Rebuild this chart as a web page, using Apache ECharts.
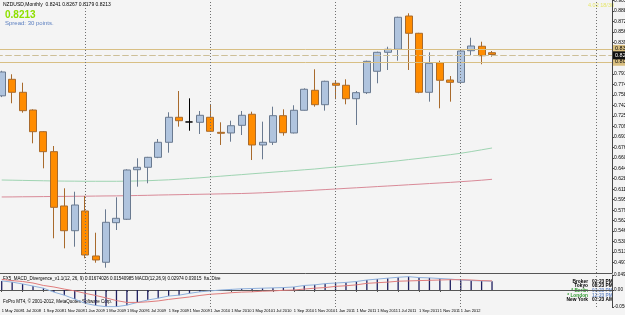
<!DOCTYPE html>
<html>
<head>
<meta charset="utf-8">
<style>
  html, body { margin: 0; padding: 0; background: #f4f4f4; }
  #chart { width: 625px; height: 315px; }
</style>
<script src="https://cdn.jsdelivr.net/npm/echarts@6/dist/echarts.min.js"></script>
</head>
<body>
<div id="chart"></div>
<script>
// NZDUSD monthly bars, May 2008 .. Apr 2012
var months = [
  '1 May 2008', '1 Jun 2008', '1 Jul 2008', '1 Aug 2008', '1 Sep 2008', '1 Oct 2008', '1 Nov 2008', '1 Dec 2008',
  '1 Jan 2009', '1 Feb 2009', '1 Mar 2009', '1 Apr 2009', '1 May 2009', '1 Jun 2009', '1 Jul 2009', '1 Aug 2009',
  '1 Sep 2009', '1 Oct 2009', '1 Nov 2009', '1 Dec 2009', '1 Jan 2010', '1 Feb 2010', '1 Mar 2010', '1 Apr 2010',
  '1 May 2010', '1 Jun 2010', '1 Jul 2010', '1 Aug 2010', '1 Sep 2010', '1 Oct 2010', '1 Nov 2010', '1 Dec 2010',
  '1 Jan 2011', '1 Feb 2011', '1 Mar 2011', '1 Apr 2011', '1 May 2011', '1 Jun 2011', '1 Jul 2011', '1 Aug 2011',
  '1 Sep 2011', '1 Oct 2011', '1 Nov 2011', '1 Dec 2011', '1 Jan 2012', '1 Feb 2012', '1 Mar 2012', '1 Apr 2012'
];
// empty slots to the right of the last bar (chart shift)
var futureMonths = [
  '1 May 2012', '1 Jun 2012', '1 Jul 2012', '1 Aug 2012', '1 Sep 2012', '1 Oct 2012',
  '1 Nov 2012', '1 Dec 2012', '1 Jan 2013', '1 Feb 2013', '1 Mar 2013'
];
var separators = ['1 Jan 2009', '1 Jan 2010', '1 Jan 2011', '1 Jan 2012', '1 Feb 2013'];

var opens = [
  0.7570, 0.7827, 0.7625, 0.7349, 0.7012, 0.6701, 0.5856, 0.5471,
  0.5778, 0.5078, 0.4980, 0.5596, 0.5649, 0.6420, 0.6458, 0.6613,
  0.6847, 0.7236, 0.7163, 0.7158, 0.7236, 0.7002, 0.6992, 0.7111,
  0.7283, 0.6805, 0.6847, 0.7261, 0.6992, 0.7345, 0.7656, 0.7432,
  0.7765, 0.7734, 0.7525, 0.7619, 0.7952, 0.8247, 0.8294, 0.8812,
  0.8543, 0.7625, 0.8085, 0.7816, 0.7780, 0.8272, 0.8341, 0.8241
];
var closes = [
  0.7941, 0.7625, 0.7339, 0.7012, 0.6701, 0.5835, 0.5471, 0.5871,
  0.5093, 0.5016, 0.5602, 0.5664, 0.6416, 0.6458, 0.6613, 0.6847,
  0.7236, 0.7183, 0.7163, 0.7267, 0.7018, 0.6987, 0.7105, 0.7267,
  0.6805, 0.6847, 0.7261, 0.6996, 0.7345, 0.7672, 0.7432, 0.7796,
  0.7734, 0.7525, 0.7619, 0.8107, 0.8247, 0.8294, 0.8792, 0.8543,
  0.7625, 0.8076, 0.7812, 0.7780, 0.8267, 0.8345, 0.8194, 0.8213
];
var lows = [
  0.7550, 0.7454, 0.7308, 0.6831, 0.6442, 0.5353, 0.5197, 0.5222,
  0.5042, 0.4973, 0.4896, 0.5482, 0.5638, 0.6156, 0.6209, 0.6600,
  0.6685, 0.7090, 0.7027, 0.6976, 0.7012, 0.6805, 0.6856, 0.6960,
  0.6571, 0.6582, 0.6805, 0.6950, 0.6985, 0.7340, 0.7401, 0.7339,
  0.7516, 0.7438, 0.7116, 0.7598, 0.7765, 0.7972, 0.8117, 0.7972,
  0.7610, 0.7479, 0.7376, 0.7479, 0.7765, 0.8205, 0.8061, 0.8179
];
var highs = [
  0.7960, 0.7905, 0.7774, 0.7360, 0.7020, 0.6789, 0.6131, 0.6078,
  0.6011, 0.5440, 0.5804, 0.5991, 0.6427, 0.6598, 0.6620, 0.6898,
  0.7314, 0.7645, 0.7531, 0.7334, 0.7443, 0.7158, 0.7183, 0.7334,
  0.7323, 0.7168, 0.7401, 0.7360, 0.7423, 0.7687, 0.7983, 0.7805,
  0.7816, 0.7827, 0.7645, 0.8117, 0.8257, 0.8334, 0.8801, 0.8854,
  0.8550, 0.8247, 0.8117, 0.7878, 0.8283, 0.8474, 0.8412, 0.8267
];
// moving averages drawn on the price chart
var maGreen = [
  0.6260, 0.6257, 0.6254, 0.6251, 0.6248, 0.6245, 0.6243, 0.6242,
  0.6240, 0.6240, 0.6240, 0.6240, 0.6242, 0.6245, 0.6249, 0.6256,
  0.6263, 0.6273, 0.6284, 0.6294, 0.6307, 0.6319, 0.6332, 0.6344,
  0.6357, 0.6369, 0.6382, 0.6394, 0.6406, 0.6419, 0.6431, 0.6447,
  0.6462, 0.6478, 0.6494, 0.6509, 0.6525, 0.6542, 0.6559, 0.6578,
  0.6596, 0.6615, 0.6634, 0.6654, 0.6676, 0.6702, 0.6730, 0.6758
];
var maRed = [
  0.5996, 0.5997, 0.5999, 0.6000, 0.6002, 0.6004, 0.6005, 0.6007,
  0.6008, 0.6010, 0.6012, 0.6013, 0.6016, 0.6019, 0.6022, 0.6026,
  0.6029, 0.6032, 0.6035, 0.6038, 0.6041, 0.6044, 0.6047, 0.6050,
  0.6055, 0.6061, 0.6069, 0.6077, 0.6085, 0.6092, 0.6102, 0.6111,
  0.6120, 0.6130, 0.6139, 0.6148, 0.6158, 0.6167, 0.6176, 0.6186,
  0.6195, 0.6205, 0.6214, 0.6223, 0.6234, 0.6245, 0.6257, 0.6271
];
// MACD(12,26,9) main and signal
var macd = [
  0.030, 0.026, 0.020, 0.013, 0.006, -0.007, -0.017, -0.030,
  -0.044, -0.051, -0.055, -0.055, -0.050, -0.041, -0.033, -0.027,
  -0.020, -0.017, -0.011, -0.006, -0.003, 0.000, 0.002, 0.004,
  0.005, 0.006, 0.007, 0.008, 0.010, 0.015, 0.017, 0.021,
  0.023, 0.025, 0.028, 0.033, 0.036, 0.039, 0.042, 0.044,
  0.041, 0.040, 0.038, 0.036, 0.033, 0.031, 0.030, 0.029
];
var signal = [
  0.035, 0.031, 0.028, 0.023, 0.015, 0.010, 0.003, -0.003,
  -0.011, -0.018, -0.026, -0.035, -0.041, -0.041, -0.039, -0.036,
  -0.031, -0.027, -0.023, -0.018, -0.014, -0.012, -0.009, -0.007,
  -0.006, -0.004, -0.003, -0.001, 0.000, 0.003, 0.006, 0.008,
  0.012, 0.014, 0.017, 0.022, 0.024, 0.026, 0.029, 0.030,
  0.031, 0.032, 0.033, 0.034, 0.034, 0.033, 0.031, 0.030
];
// horizontal price lines
var levelsSolid = [0.8345, 0.8096];
var bidLine = 0.8213;
var askLine = 0.8183;

var clockNames = ['Broker', 'Tokyo', '* Berlin', '* London', 'New York'];
var clockTimes = ['02:23 PM', '08:23 PM', '01:23 PM', '12:23 PM', '07:23 AM'];
var clockNameColors = ['#000000', '#000000', '#2f9a2f', '#2f9a2f', '#000000'];
var clockTimeColors = ['#000000', '#000000', '#6f8fc8', '#6f8fc8', '#000000'];

var FONT = 'Liberation Sans';
var categories = months.concat(futureMonths);
var candles = opens.map(function (o, i) {
  return [o, closes[i], lows[i], highs[i]];
});

var chart = echarts.init(document.getElementById('chart'));

var priceMarks = [];
levelsSolid.forEach(function (v) {
  priceMarks.push({
    yAxis: v,
    lineStyle: { color: '#d8bf84', type: 'solid', width: 1 },
    label: {
      show: true, position: 'end', distance: 1, formatter: v.toFixed(4),
      backgroundColor: '#d9bf80', color: '#000', fontSize: 5.5, fontFamily: FONT, padding: [1, 2]
    }
  });
});
priceMarks.push({
  yAxis: bidLine,
  lineStyle: { color: '#cdbf98', type: [6, 3], width: 1 },
  label: {
    show: true, position: 'end', distance: 1, formatter: bidLine.toFixed(4),
    backgroundColor: '#111', color: '#fff', fontSize: 5.5, fontFamily: FONT, padding: [1, 2]
  }
});
priceMarks.push({
  yAxis: askLine,
  lineStyle: { color: '#cdbf98', type: [6, 3], width: 1 },
  label: { show: false }
});
separators.forEach(function (m) {
  priceMarks.push({
    xAxis: m,
    lineStyle: { color: '#707070', type: [1, 2], width: 1 },
    label: { show: false }
  });
});

var sepMarks = separators.map(function (m) {
  return { xAxis: m, lineStyle: { color: '#707070', type: [1, 2], width: 1 }, label: { show: false } };
});

var graphics = [
  { type: 'text', x: 3, y: 2, style: { text: 'NZDUSD,Monthly  0.8241 0.8267 0.8179 0.8213', fill: '#000', fontSize: 5, fontFamily: FONT } },
  { type: 'text', x: 5, y: 10, style: { text: '0.8213', fill: '#8ee000', fontSize: 10, fontWeight: 'bold', fontFamily: FONT } },
  { type: 'text', x: 5, y: 20, style: { text: 'Spread: 30 points.', fill: '#5b7fc0', fontSize: 6, fontFamily: FONT } },
  { type: 'text', x: 588, y: 2, style: { text: '4.02 18/30', fill: '#e6e66a', fontSize: 5.5, fontFamily: FONT } },
  { type: 'text', x: 3, y: 276, style: { text: 'FX5_MACD_Divergence_v1.1(12, 26, 9) 0.01674026 0.01540985 MACD(12,26,9) 0.02974 0.03015  fta. Dive', fill: '#000', fontSize: 4.5, fontFamily: FONT } },
  { type: 'text', x: 3, y: 299, style: { text: 'FxPro MT4, \u00a9 2001-2012, MetaQuotes Software Corp.', fill: '#000', fontSize: 4.5, fontFamily: FONT } }
];
clockNames.forEach(function (n, i) {
  graphics.push({ type: 'text', x: 588, y: 279 + i * 4.6, style: { text: n, fill: clockNameColors[i], fontSize: 4.8, fontWeight: 'bold', fontFamily: FONT, align: 'right' } });
  graphics.push({ type: 'text', x: 592, y: 279 + i * 4.6, style: { text: clockTimes[i], fill: clockTimeColors[i], fontSize: 4.8, fontWeight: 'bold', fontFamily: FONT } });
});

chart.setOption({
  backgroundColor: '#f4f4f4',
  animation: false,
  graphic: graphics,
  grid: [
    { left: -3.5, right: 13, top: 0, height: 273, containLabel: false, outerBoundsMode: 'none' },
    { left: -3.5, right: 13, top: 275, height: 32, containLabel: false, outerBoundsMode: 'none' }
  ],
  xAxis: [
    {
      type: 'category', gridIndex: 0, data: categories, boundaryGap: true,
      axisLine: { show: true, lineStyle: { color: '#555', width: 1 } },
      axisTick: { show: false }, axisLabel: { show: false }, splitLine: { show: false }
    },
    {
      type: 'category', gridIndex: 1, data: categories, boundaryGap: true,
      axisLine: { show: true, lineStyle: { color: '#555', width: 1 } },
      axisTick: {
        show: true, alignWithLabel: true, length: 2, lineStyle: { color: '#555' },
        interval: function (i) { return i % 2 === 0 && i < months.length; }
      },
      axisLabel: {
        show: true, align: 'left', margin: 2, fontSize: 4, color: '#000', fontFamily: FONT,
        hideOverlap: false, showMinLabel: true, showMaxLabel: false,
        interval: function (i) { return i % 2 === 0 && i < months.length; }
      },
      splitLine: { show: false }
    }
  ],
  yAxis: [
    {
      type: 'value', gridIndex: 0, position: 'right', min: 0.4813, max: 0.9061, interval: 0.0163,
      axisLine: { show: true, lineStyle: { color: '#444', width: 1 } },
      axisTick: { show: true, length: 2, lineStyle: { color: '#444' } },
      axisLabel: {
        fontSize: 5, margin: 2, color: '#000', fontFamily: FONT,
        showMinLabel: false, showMaxLabel: false,
        formatter: function (v) { return v.toFixed(4); }
      },
      splitLine: { show: false }
    },
    {
      type: 'value', gridIndex: 1, position: 'right', min: -0.0561, max: 0.0495, interval: 0.0561,
      axisLine: { show: true, lineStyle: { color: '#444', width: 1 } },
      axisTick: { show: true, length: 2, lineStyle: { color: '#444' } },
      axisLabel: {
        fontSize: 4.6, margin: 2, color: '#000', fontFamily: FONT,
        formatter: function (v) { return Math.abs(v) < 1e-9 ? '0.00' : v.toFixed(4); }
      },
      splitLine: { show: false }
    }
  ],
  series: [
    {
      type: 'line', xAxisIndex: 0, yAxisIndex: 0, data: maGreen, symbol: 'none',
      lineStyle: { color: '#9fd4b2', width: 1 }, z: 1
    },
    {
      type: 'line', xAxisIndex: 0, yAxisIndex: 0, data: maRed, symbol: 'none',
      lineStyle: { color: '#d98a98', width: 1 }, z: 1
    },
    {
      type: 'candlestick', xAxisIndex: 0, yAxisIndex: 0, data: candles, barWidth: 7.5, z: 3,
      itemStyle: {
        color: '#b0c4de', borderColor: '#6a7a90',
        color0: '#ff8c00', borderColor0: '#a86a2c',
        borderColorDoji: '#000', borderWidth: 1
      },
      markLine: { symbol: 'none', silent: true, animation: false, data: priceMarks }
    },
    {
      type: 'bar', xAxisIndex: 1, yAxisIndex: 1, data: macd, barWidth: 1.3,
      itemStyle: { color: '#1e1e5e' },
      markLine: { symbol: 'none', silent: true, animation: false, data: sepMarks }
    },
    {
      type: 'line', xAxisIndex: 1, yAxisIndex: 1, data: macd, symbol: 'none',
      lineStyle: { color: '#8eb0dc', width: 1 }, z: 3
    },
    {
      type: 'line', xAxisIndex: 1, yAxisIndex: 1, data: signal, symbol: 'none',
      lineStyle: { color: '#e07c7c', width: 1 }, z: 3
    }
  ]
});
</script>
</body>
</html>
